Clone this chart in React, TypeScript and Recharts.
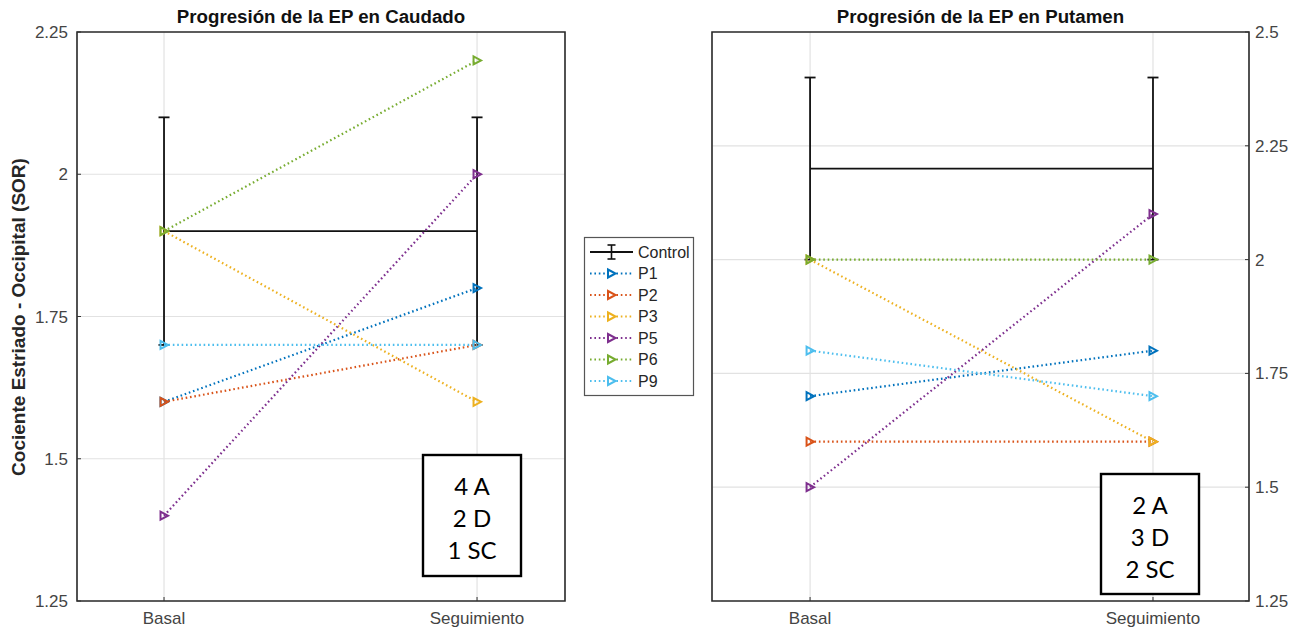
import React from 'react';
import { LineChart, Line, XAxis, YAxis, CartesianGrid, ErrorBar, ReferenceArea } from 'recharts';

const categories = ['Basal', 'Seguimiento'];
const seriesNames = ['P1', 'P2', 'P3', 'P5', 'P6', 'P9'];
const seriesColors = ['#0072BD', '#D95319', '#EDB120', '#7E2F8E', '#77AC30', '#4DBEEE'];

const caudadoControl = [1.9, 1.9];
const caudadoControlErr = [0.2, 0.2];
const caudadoP1 = [1.6, 1.8];
const caudadoP2 = [1.6, 1.7];
const caudadoP3 = [1.9, 1.6];
const caudadoP5 = [1.4, 2.0];
const caudadoP6 = [1.9, 2.2];
const caudadoP9 = [1.7, 1.7];

const putamenControl = [2.2, 2.2];
const putamenControlErr = [0.2, 0.2];
const putamenP1 = [1.7, 1.8];
const putamenP2 = [1.6, 1.6];
const putamenP3 = [2.0, 1.6];
const putamenP5 = [1.5, 2.1];
const putamenP6 = [2.0, 2.0];
const putamenP9 = [1.8, 1.7];

const caudadoTicks = [1.25, 1.5, 1.75, 2, 2.25];
const putamenTicks = [1.25, 1.5, 1.75, 2, 2.25, 2.5];

const caudadoTitle = 'Progresión de la EP en Caudado';
const putamenTitle = 'Progresión de la EP en Putamen';
const yLabel = 'Cociente Estriado - Occipital (SOR)';
const caudadoNote = ['4 A', '2 D', '1 SC'];
const putamenNote = ['2 A', '3 D', '2 SC'];

function buildData(control: number[], err: number[], series: number[][]) {
  return categories.map((c, i) => {
    const row: any = { x: i + 1, label: c, Control: control[i], err: err[i] };
    seriesNames.forEach((n, k) => {
      row[n] = series[k][i];
    });
    return row;
  });
}

const caudadoData = buildData(caudadoControl, caudadoControlErr, [
  caudadoP1, caudadoP2, caudadoP3, caudadoP5, caudadoP6, caudadoP9,
]);
const putamenData = buildData(putamenControl, putamenControlErr, [
  putamenP1, putamenP2, putamenP3, putamenP5, putamenP6, putamenP9,
]);

const FONT = "'Liberation Sans', Arial, sans-serif";
const DASH = '1.6 2.8';

const triPoints = (cx: number, cy: number) =>
  `${cx - 3.5},${cy - 4} ${cx - 3.5},${cy + 4} ${cx + 4},${cy}`;

const makeTri = (color: string, name: string) => (props: any) => {
  const { cx, cy, index } = props;
  if (cx == null || cy == null) return <g key={`${name}-e-${index}`} />;
  return (
    <polygon
      key={`${name}-${index}`}
      points={triPoints(cx, cy)}
      fill="none"
      stroke={color}
      strokeWidth={2}
    />
  );
};

type PanelProps = {
  data: any[];
  ticks: number[];
  xDomain: [number, number];
  width: number;
  left: number;
  orientation: 'left' | 'right';
  margin: { top: number; right: number; bottom: number; left: number };
};

function Panel({ data, ticks, xDomain, width, left, orientation, margin }: PanelProps) {
  const yMin = ticks[0];
  const yMax = ticks[ticks.length - 1];
  return (
    <div style={{ position: 'absolute', left, top: 0 }}>
      <LineChart width={width} height={634} data={data} margin={margin}>
        <CartesianGrid stroke="#e2e2e2" strokeWidth={1.2} />
        <XAxis
          dataKey="x"
          type="number"
          domain={xDomain}
          allowDataOverflow
          ticks={[1, 2]}
          tickFormatter={(v: number) => categories[v - 1] ?? ''}
          height={30}
          axisLine={false}
          tickSize={-4}
          tickMargin={15}
          tickLine={{ stroke: '#333' }}
          tick={{ fontSize: 17, fill: '#444', fontFamily: FONT }}
        />
        <YAxis
          type="number"
          orientation={orientation}
          domain={[yMin, yMax]}
          allowDataOverflow
          ticks={ticks}
          width={60}
          axisLine={false}
          tickSize={-4}
          tickMargin={orientation === 'left' ? 13 : 10}
          tickLine={{ stroke: '#333' }}
          tick={{ fontSize: 17, fill: '#444', fontFamily: FONT }}
        />
        <ReferenceArea
          x1={xDomain[0]}
          x2={xDomain[1]}
          y1={yMin}
          y2={yMax}
          fill="none"
          fillOpacity={0}
          stroke="#2b2b2b"
          strokeWidth={1.6}
          ifOverflow="visible"
        />
        <Line
          dataKey="Control"
          stroke="#111"
          strokeWidth={1.8}
          dot={false}
          activeDot={false}
          isAnimationActive={false}
        >
          <ErrorBar dataKey="err" width={5.5} stroke="#111" strokeWidth={1.8} direction="y" />
        </Line>
        {seriesNames.map((n, k) => (
          <Line
            key={n}
            dataKey={n}
            stroke={seriesColors[k]}
            strokeWidth={2.2}
            strokeDasharray={DASH}
            dot={makeTri(seriesColors[k], n)}
            activeDot={false}
            isAnimationActive={false}
          />
        ))}
      </LineChart>
    </div>
  );
}

function NoteBox({ x, y, w, h, lines }: { x: number; y: number; w: number; h: number; lines: string[] }) {
  return (
    <g>
      <rect x={x} y={y} width={w} height={h} fill="#fff" stroke="#000" strokeWidth={2.4} />
      {lines.map((t, i) => (
        <text
          key={t}
          x={x + w / 2}
          y={y + 30 + i * 32}
          textAnchor="middle"
          dominantBaseline="central"
          fontFamily="Lato, 'Open Sans', sans-serif"
          fontSize={24}
          fill="#000"
        >
          {t}
        </text>
      ))}
    </g>
  );
}

function Overlay() {
  const lx0 = 590;
  const lx1 = 633;
  const lmid = 611.5;
  const rowY = [252, 273.5, 295, 316.5, 338, 359.5, 381];
  return (
    <svg
      width={1309}
      height={634}
      style={{ position: 'absolute', left: 0, top: 0, pointerEvents: 'none' }}
    >
      <text x={321} y={16} textAnchor="middle" dominantBaseline="central" fontFamily={FONT} fontWeight="bold" fontSize={18.7} fill="#111">
        {caudadoTitle}
      </text>
      <text x={980.5} y={16} textAnchor="middle" dominantBaseline="central" fontFamily={FONT} fontWeight="bold" fontSize={18.7} fill="#111">
        {putamenTitle}
      </text>
      <text
        x={18}
        y={317}
        transform="rotate(-90 18 317)"
        textAnchor="middle"
        dominantBaseline="central"
        fontFamily={FONT}
        fontWeight="bold"
        fontSize={19}
        fill="#262626"
      >
        {yLabel}
      </text>

      <g>
        <rect x={584.5} y={237.5} width={109} height={158} fill="#fff" stroke="#555" strokeWidth={1.2} />
        <line x1={lx0} x2={lx1} y1={rowY[0]} y2={rowY[0]} stroke="#111" strokeWidth={1.8} />
        <line x1={lmid} x2={lmid} y1={rowY[0] - 7} y2={rowY[0] + 7} stroke="#111" strokeWidth={1.6} />
        <line x1={lmid - 4} x2={lmid + 4} y1={rowY[0] - 7} y2={rowY[0] - 7} stroke="#111" strokeWidth={1.6} />
        <line x1={lmid - 4} x2={lmid + 4} y1={rowY[0] + 7} y2={rowY[0] + 7} stroke="#111" strokeWidth={1.6} />
        <text x={638} y={rowY[0]} dominantBaseline="central" fontFamily={FONT} fontSize={16} fill="#262626">
          Control
        </text>
        {seriesNames.map((n, k) => {
          const yy = rowY[k + 1];
          return (
            <g key={n}>
              <line x1={lx0} x2={lx1} y1={yy} y2={yy} stroke={seriesColors[k]} strokeWidth={2.2} strokeDasharray={DASH} />
              <polygon
                points={triPoints(lmid, yy)}
                fill="#fff"
                stroke={seriesColors[k]}
                strokeWidth={2}
              />
              <text x={638} y={yy} dominantBaseline="central" fontFamily={FONT} fontSize={16} fill="#262626">
                {n}
              </text>
            </g>
          );
        })}
      </g>

      <NoteBox x={423} y={455} w={98} h={121} lines={caudadoNote} />
      <NoteBox x={1101} y={474} w={98} h={120} lines={putamenNote} />
    </svg>
  );
}

export default function App() {
  return (
    <div style={{ position: 'absolute', left: 0, top: 0, width: 1309, height: 634, background: '#fff' }}>
      <Panel
        data={caudadoData}
        ticks={caudadoTicks}
        xDomain={[0.722, 2.281]}
        width={600}
        left={0}
        orientation="left"
        margin={{ top: 32, right: 35, bottom: 3, left: 17 }}
      />
      <Panel
        data={putamenData}
        ticks={putamenTicks}
        xDomain={[0.714, 2.28]}
        width={609}
        left={700}
        orientation="right"
        margin={{ top: 32, right: 0, bottom: 3, left: 12 }}
      />
      <Overlay />
    </div>
  );
}
